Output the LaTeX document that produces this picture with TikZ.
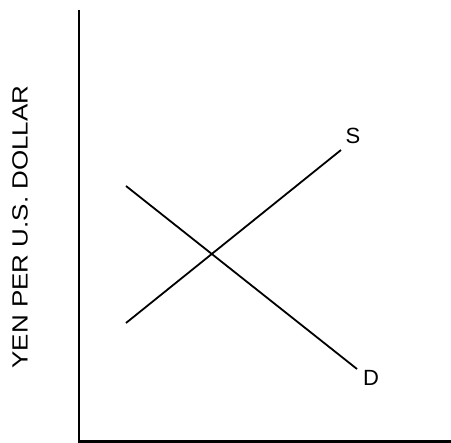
\documentclass[tikz,border=0pt]{standalone}
\usepackage{fontspec}
\setmainfont{Liberation Sans}
\usetikzlibrary{positioning}

\begin{document}
\begin{tikzpicture}[
    x=1pt, y=-1pt,
    axis/.style={line width=2.2pt},
    curve/.style={line width=1.8pt},
    lbl/.style={font=\fontsize{22}{26}\selectfont, inner sep=0pt}
]
    \useasboundingbox (0,0) rectangle (451,443);
    % axes
    \coordinate (top) at (79,10);
    \coordinate (origin) at (79,441.5);
    \coordinate (right) at (451,441.5);
    \draw[axis] (top) -- (origin) -- (right);

    % supply and demand
    \coordinate (s0) at (126,323);
    \coordinate (s1) at (341,150);
    \coordinate (d0) at (126,186);
    \coordinate (d1) at (357,369);
    \draw[curve] (s0) -- (s1);
    \draw[curve] (d0) -- (d1);

    \node[lbl] (slabel) at (353,136) {S};
    \node[lbl] (dlabel) at (371,378) {D};
    \node[lbl, rotate=90, xscale=1.18] (ylabel) at (20,227) {YEN PER U.S. DOLLAR};
\end{tikzpicture}
\end{document}
